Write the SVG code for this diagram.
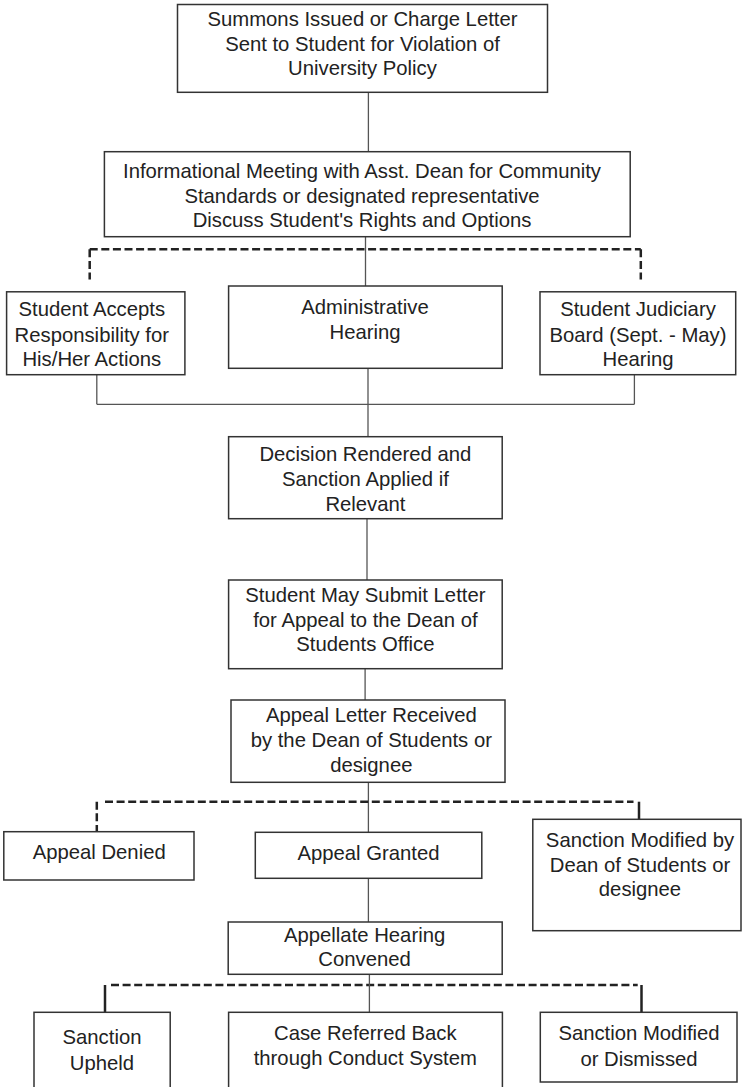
<svg xmlns="http://www.w3.org/2000/svg" width="742" height="1087" viewBox="0 0 742 1087">
<style>
.box{fill:#fff;stroke:#333;stroke-width:1.5}
.t{font-family:"Liberation Sans",Arial,Helvetica,sans-serif;font-size:20.3px;fill:#222;text-anchor:middle}
.c{fill:none;stroke:#555;stroke-width:1.3}
.d{fill:none;stroke:#222;stroke-width:2.5;stroke-dasharray:8 3.6}
.k{fill:none;stroke:#222;stroke-width:2.5}
</style>
<rect width="742" height="1087" fill="#fff"/>
<g id="connectors">
<line class="c" x1="368.4" y1="92.3" x2="368.4" y2="151.7"/>
<line class="c" x1="365.5" y1="236.7" x2="365.5" y2="286"/>
<line class="d" x1="89.7" y1="249.3" x2="640.8" y2="249.3"/>
<line class="d" x1="89.7" y1="249.3" x2="89.7" y2="279.5"/>
<line class="d" x1="640.8" y1="249.3" x2="640.8" y2="279.5"/>
<line class="c" x1="96.8" y1="374.7" x2="96.8" y2="404.3"/>
<line class="c" x1="634.4" y1="374.7" x2="634.4" y2="404.3"/>
<line class="c" x1="96.8" y1="404.3" x2="634.4" y2="404.3"/>
<line class="c" x1="368" y1="368.3" x2="368" y2="436.7"/>
<line class="c" x1="367" y1="518.7" x2="367" y2="580"/>
<line class="c" x1="365.1" y1="668.7" x2="365.1" y2="700"/>
<line class="c" x1="368.4" y1="782.3" x2="368.4" y2="832.3"/>
<line class="d" x1="105" y1="801.7" x2="633.5" y2="801.7"/>
<line class="d" x1="96.8" y1="801.7" x2="96.8" y2="831.7"/>
<line class="k" x1="639" y1="801.7" x2="639" y2="819.3"/>
<line class="c" x1="368.4" y1="878.3" x2="368.4" y2="922"/>
<line class="d" x1="111" y1="985" x2="637.7" y2="985"/>
<line class="k" x1="105" y1="985" x2="105" y2="1012"/>
<line class="k" x1="641.5" y1="985" x2="641.5" y2="1012"/>
<line class="c" x1="369.4" y1="974.3" x2="369.4" y2="1012"/>
</g>
<g id="n1"><rect class="box" x="177.5" y="4.5" width="370" height="87.8"/>
<text class="t" x="362.5" y="25.7">Summons Issued or Charge Letter</text>
<text class="t" x="362.5" y="50.6">Sent to Student for Violation of</text>
<text class="t" x="362.5" y="75.4">University Policy</text></g>
<g id="n2"><rect class="box" x="104.4" y="151.7" width="525.8" height="85"/>
<text class="t" x="362" y="177.7">Informational Meeting with Asst. Dean for Community</text>
<text class="t" x="362" y="202.8">Standards or designated representative</text>
<text class="t" x="362" y="227.3">Discuss Student's Rights and Options</text></g>
<g id="n3"><rect class="box" x="6.6" y="291.8" width="178.3" height="82.9"/>
<text class="t" x="91.8" y="316">Student Accepts</text>
<text class="t" x="91.8" y="341.5">Responsibility for</text>
<text class="t" x="91.8" y="366">His/Her Actions</text></g>
<g id="n4"><rect class="box" x="228.6" y="286" width="273.6" height="82.3"/>
<text class="t" x="365" y="314.3">Administrative</text>
<text class="t" x="365" y="339.3">Hearing</text></g>
<g id="n5"><rect class="box" x="540" y="291.8" width="195.7" height="82.9"/>
<text class="t" x="638" y="316">Student Judiciary</text>
<text class="t" x="638" y="341.5">Board (Sept. - May)</text>
<text class="t" x="638" y="365.8">Hearing</text></g>
<g id="n6"><rect class="box" x="228.6" y="436.7" width="273.6" height="82"/>
<text class="t" x="365.4" y="461.2">Decision Rendered and</text>
<text class="t" x="365.4" y="486">Sanction Applied if</text>
<text class="t" x="365.4" y="511">Relevant</text></g>
<g id="n7"><rect class="box" x="228.6" y="580" width="273.6" height="88.7"/>
<text class="t" x="365.4" y="602.3">Student May Submit Letter</text>
<text class="t" x="365.4" y="627">for Appeal to the Dean of</text>
<text class="t" x="365.4" y="651.4">Students Office</text></g>
<g id="n8"><rect class="box" x="231" y="700" width="274" height="82.3"/>
<text class="t" x="371.3" y="722">Appeal Letter Received</text>
<text class="t" x="371.3" y="747.2">by the Dean of Students or</text>
<text class="t" x="371.3" y="771.7">designee</text></g>
<g id="n9"><rect class="box" x="3.8" y="831.7" width="190.2" height="48.3"/>
<text class="t" x="99.2" y="858.5">Appeal Denied</text></g>
<g id="n10"><rect class="box" x="255.3" y="832.3" width="226.5" height="46"/>
<text class="t" x="368.5" y="860">Appeal Granted</text></g>
<g id="n11"><rect class="box" x="532.8" y="819.3" width="208.2" height="111.4"/>
<text class="t" x="640" y="846.7">Sanction Modified by</text>
<text class="t" x="640" y="871.7">Dean of Students or</text>
<text class="t" x="640" y="896">designee</text></g>
<g id="n12"><rect class="box" x="228.2" y="922" width="274" height="52.3"/>
<text class="t" x="364.6" y="941.7">Appellate Hearing</text>
<text class="t" x="364.6" y="966">Convened</text></g>
<g id="n13"><rect class="box" x="34" y="1012.3" width="136.2" height="90"/>
<text class="t" x="102" y="1044">Sanction</text>
<text class="t" x="102" y="1069.8">Upheld</text></g>
<g id="n14"><rect class="box" x="228.6" y="1012.3" width="273.8" height="90"/>
<text class="t" x="365.3" y="1039.7">Case Referred Back</text>
<text class="t" x="365.3" y="1065.3">through Conduct System</text></g>
<g id="n15"><rect class="box" x="540.3" y="1012.3" width="196.7" height="69.7"/>
<text class="t" x="639" y="1040">Sanction Modified</text>
<text class="t" x="639" y="1065.5">or Dismissed</text></g>
</svg>
